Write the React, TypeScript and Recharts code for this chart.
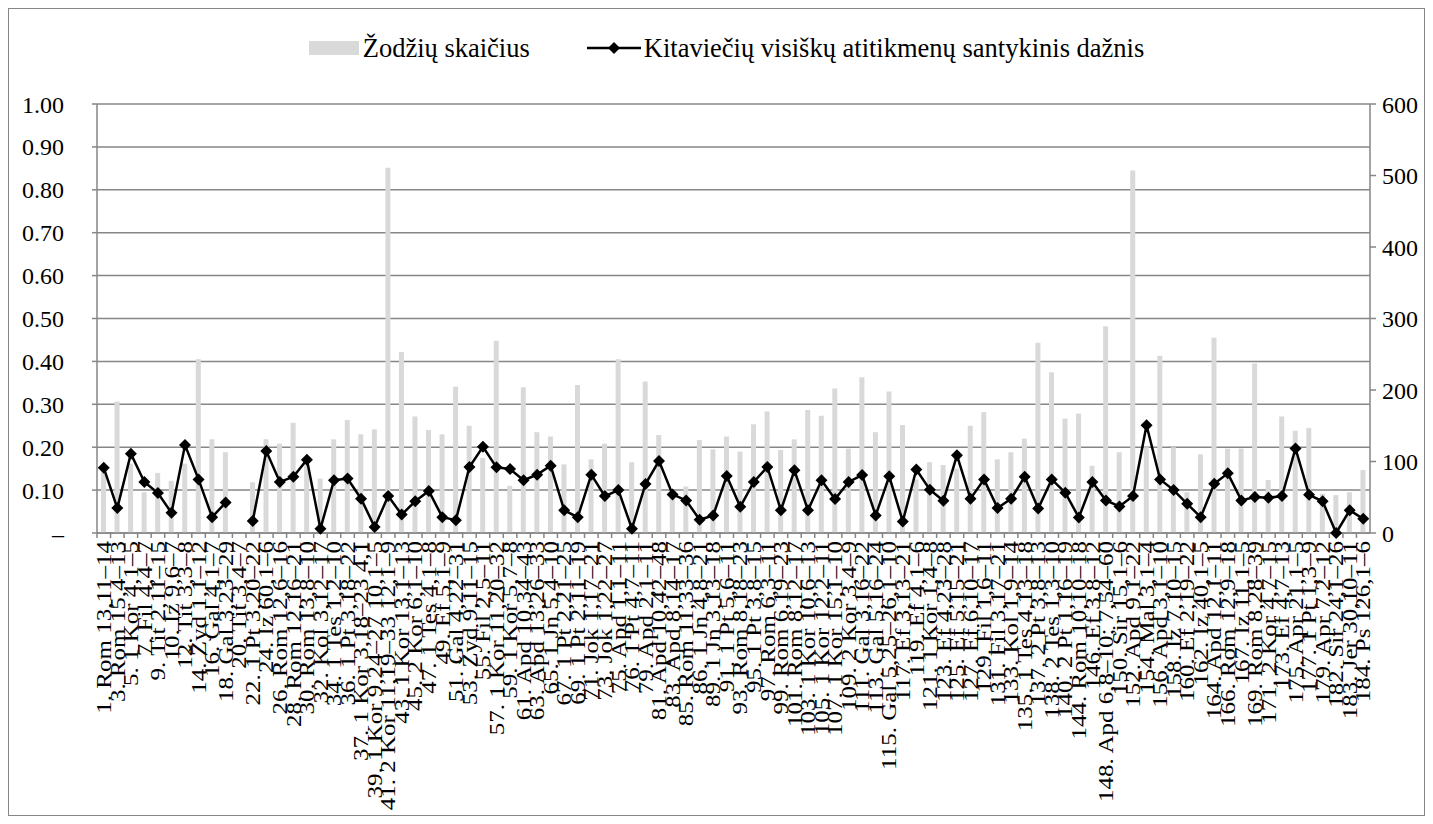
import React from "react";
import { Bar, CartesianGrid, ComposedChart, Legend, Line, XAxis, YAxis } from "recharts";

// Pericope labels (x axis)
const labels = [
  "1. Rom 13,11–14", "3. Rom 15,4–13", "5. 1 Kor 4,1–5", "7. Fil 4,4–7", "9. Tit 2,11–15",
  "10. Iz 9,6–7", "12. Tit 3,3–8", "14. Žyd 1,1–12", "16. Gal 4,1–7", "18. Gal 3,23–29",
  "20. Tit 3,4–7", "22. 1 Pt 3,20–22", "24. Iz 60,1–6", "26. Rom 12,6–16", "28. Rom 12,16–21",
  "30. Rom 13,8–10", "32. Kol 3,12–17", "34. 1 Tes 1,2–10", "36. 1 Pt 3,18–22", "37. 1 Kor 3,18–23 4,1",
  "39. 1 Kor 9,24–27 10,1–5", "41. 2 Kor 11,19–33 12,1–9", "43. 1 Kor 13,1–13", "45. 2 Kor 6,1–10", "47. 1 Tes 4,1–8",
  "49. Ef 5,1–9", "51. Gal 4,22–31", "53. Žyd 9,11–15", "55. Fil 2,5–11", "57. 1 Kor 11,20–32",
  "59. 1 Kor 5,7–8", "61. Apd 10,34–43", "63. Apd 13,26–33", "65. 1 Jn 5,4–10", "67. 1 Pt 2,21–25",
  "69. 1 Pt 2,11–19", "71. Jok 1,17–21", "73. Jok 1,22–27", "75. Apd 1,1–11", "76. 1 Pt 4,7–11",
  "79. Apd 2,1–11", "81. Apd 10,42–48", "83. Apd 8,14–17", "85. Rom 11,33–36", "86. 1 Jn 4,8–21",
  "89. 1 Jn 3,13–18", "91. 1 Pt 5,6–11", "93. Rom 8,18–23", "95. 1 Pt 3,8–15", "97. Rom 6,3–11",
  "99. Rom 6,19–23", "101. Rom 8,12–17", "103. 1 Kor 10,6–13", "105. 1 Kor 12,2–11", "107. 1 Kor 15,1–10",
  "109. 2 Kor 3,4–9", "111. Gal 3,16–22", "113. Gal 5,16–24", "115. Gal 5,25–26,1–10", "117. Ef 3,13–21",
  "119. Ef 4,1–6", "121. 1 Kor 1,4–8", "123. Ef 4,23–28", "125. Ef 5,15–21", "127. Ef 6,10–17",
  "129. Fil 1,6–11", "131. Fil 3,17–21", "133. Kol 1,9–14", "135. 1 Tes 4,13–18", "137. 2 Pt 3,8–13",
  "138. 2 Tes 1,3–10", "140. 2 Pt 1,16–19", "144. Rom 10,10–18", "146. Ef 3,8–12", "148. Apd 6,8–10; 7,54–60",
  "150. Sir 15,1–6", "152. Apd 9,1–22", "154. Mal 3,1–4", "156. Apd 3,1–10", "158. Iz 7,10–15",
  "160. Ef 2,19–22", "162. Iz 40,1–5", "164. Apd 12,1–11", "166. Rom 12,9–18", "167. Iz 11,1–5",
  "169. Rom 8,28–39", "171. 2 Kor 4,7–15", "173. Ef 4,7–13", "175. Apr 21,1–5", "177. 1 Pt 1,3–9",
  "179. Apr 7,2–12", "182. Sir 24,1–26", "183. Jer 30,10–11", "184. Ps 126,1–6",
];

// Žodžių skaičius (right axis)
const wordCounts = [
  85, 184, 97, 57, 84, 73, 97, 243, 131, 113,
  null, 71, 131, 125, 154, 95, 76, 131, 158, 138,
  145, 511, 253, 163, 144, 138, 205, 150, 105, 269,
  66, 204, 141, 135, 96, 207, 103, 125, 243, 99,
  212, 137, 60, 65, 130, 117, 135, 114, 152, 170,
  116, 131, 172, 164, 202, 118, 218, 141, 198, 151,
  75, 99, 95, 90, 150, 169, 103, 113, 132, 266,
  225, 160, 167, 94, 289, 113, 507, 120, 248, 120,
  57, 110, 273, 118, 118, 237, 74, 163, 143, 147,
  55, 53, 57, 88,
];

// Kitaviečių visiškų atitikmenų santykinis dažnis (left axis)
const matchShares = [
  0.152, 0.058, 0.185, 0.119, 0.093, 0.047, 0.205, 0.125, 0.037, 0.071,
  null, 0.028, 0.191, 0.119, 0.131, 0.171, 0.01, 0.123, 0.127, 0.08,
  0.014, 0.086, 0.043, 0.074, 0.098, 0.037, 0.03, 0.154, 0.201, 0.153,
  0.149, 0.123, 0.136, 0.157, 0.053, 0.037, 0.136, 0.086, 0.1, 0.01,
  0.114, 0.168, 0.09, 0.076, 0.031, 0.041, 0.133, 0.061, 0.119, 0.154,
  0.053, 0.146, 0.053, 0.123, 0.079, 0.119, 0.135, 0.041, 0.132, 0.027,
  0.148, 0.101, 0.075, 0.181, 0.08, 0.125, 0.058, 0.08, 0.131, 0.057,
  0.125, 0.094, 0.036, 0.119, 0.076, 0.062, 0.086, 0.251, 0.125, 0.1,
  0.068, 0.037, 0.115, 0.139, 0.076, 0.084, 0.082, 0.086, 0.197, 0.089,
  0.074, 0, 0.053, 0.033,
];

const leftTicks = [0, 0.1, 0.2, 0.3, 0.4, 0.5, 0.6, 0.7, 0.8, 0.9, 1];
const rightTicks = [0, 100, 200, 300, 400, 500, 600];

const data = labels.map((label, i) => ({ label, words: wordCounts[i], share: matchShares[i] }));

const FONT = '"Liberation Serif", "Times New Roman", serif';
const GRID = "#868686";
const BAR = "#d9d9d9";
const CHART_W = 1415;
const CHART_H = 806;
const LEFT_W = 88;
const RIGHT_W = 54;
const STEP = (CHART_W - LEFT_W - RIGHT_W) / labels.length;

// rotated category label; tick marks sit on the category boundaries like Excel
const CategoryTick = ({ x, y, payload }: any) => (
  <g transform={`translate(${x},${y})`}>
    <line x1={-STEP / 2} x2={-STEP / 2} y1={-8} y2={-3} stroke={GRID} strokeWidth={1.5} />
    <text
      transform="rotate(-90) scale(1,0.82)"
      textAnchor="end"
      dy="0.35em"
      fontSize={25}
      fontFamily={FONT}
      fill="#000"
    >
      {payload.value}
    </text>
  </g>
);

const Diamond = (props: any) => {
  const { cx, cy, index } = props;
  if (cx == null || cy == null || Number.isNaN(cy) || props.value == null) return <g key={`d-${index}`} />;
  const r = 6;
  return (
    <polygon
      key={`d-${index}`}
      points={`${cx},${cy - r} ${cx + r},${cy} ${cx},${cy + r} ${cx - r},${cy}`}
      fill="#000"
    />
  );
};

const LegendBox = () => (
  <div
    style={{
      display: "flex",
      justifyContent: "center",
      alignItems: "center",
      height: 22,
      paddingLeft: 20,
      fontFamily: FONT,
      fontSize: 26.5,
      color: "#000",
      whiteSpace: "nowrap",
    }}
  >
    <span style={{ display: "inline-block", width: 50, height: 14, background: BAR, marginRight: 4 }} />
    <span>Žodžių skaičius</span>
    <svg width={54} height={14} style={{ marginLeft: 57, marginRight: 3 }}>
      <line x1={0} x2={54} y1={7} y2={7} stroke="#000" strokeWidth={2.5} />
      <polygon points="27,1 33,7 27,13 21,7" fill="#000" />
    </svg>
    <span>Kitaviečių visiškų atitikmenų santykinis dažnis</span>
  </div>
);

export default function App() {
  const tickStyle = { fontSize: 24, fontFamily: FONT, fill: "#000" };
  return (
    <div style={{ width: CHART_W, height: CHART_H, border: `1px solid ${GRID}`, background: "#fff" }}>
      <ComposedChart width={CHART_W} height={CHART_H} data={data} margin={{ top: 28, right: 0, bottom: 0, left: 0 }}>
        <Legend verticalAlign="top" align="center" height={67} content={() => <LegendBox />} />
        <CartesianGrid yAxisId="left" vertical={false} stroke={GRID} strokeWidth={1.5} />
        <XAxis
          dataKey="label"
          interval={0}
          height={282}
          tickLine={false}
          axisLine={{ stroke: GRID, strokeWidth: 1.5 }}
          tick={<CategoryTick />}
        />
        <YAxis
          yAxisId="left"
          domain={[0, 1]}
          ticks={leftTicks}
          interval={0}
          width={LEFT_W}
          tickFormatter={(v: number) => (v === 0 ? "–" : v.toFixed(2))}
          axisLine={{ stroke: GRID, strokeWidth: 1.5 }}
          tickLine={{ stroke: GRID, strokeWidth: 1.5 }}
          tickSize={5}
          tickMargin={28}
          tick={tickStyle}
        />
        <YAxis
          yAxisId="right"
          orientation="right"
          domain={[0, 600]}
          ticks={rightTicks}
          interval={0}
          width={RIGHT_W}
          axisLine={{ stroke: GRID, strokeWidth: 1.5 }}
          tickLine={{ stroke: GRID, strokeWidth: 1.5 }}
          tickSize={6}
          tickMargin={6}
          tick={tickStyle}
        />
        <Bar yAxisId="right" dataKey="words" fill={BAR} barSize={5} isAnimationActive={false} />
        <Line
          yAxisId="left"
          dataKey="share"
          stroke="#000"
          strokeWidth={2.5}
          dot={Diamond}
          activeDot={false}
          isAnimationActive={false}
        />
      </ComposedChart>
    </div>
  );
}
